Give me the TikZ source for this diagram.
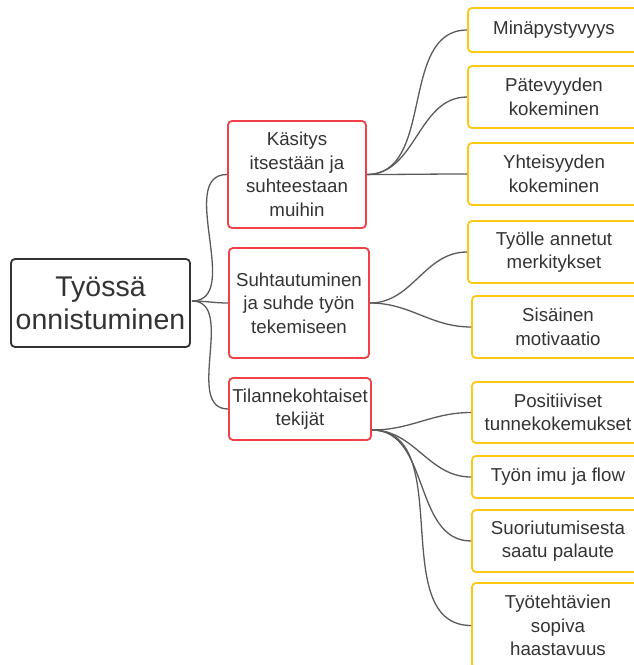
\documentclass[tikz,border=0pt]{standalone}
\usepackage{fontspec}
\setmainfont{Liberation Sans}
\usetikzlibrary{positioning}

\begin{document}
\begin{tikzpicture}[x=1pt,y=-1pt]
  % Colors
  \definecolor{textcolor}{RGB}{51,51,51}
  \definecolor{rootcolor}{RGB}{51,51,51}
  \definecolor{redcolor}{RGB}{242,64,72}
  \definecolor{yellowcolor}{RGB}{255,200,20}
  \definecolor{linecolor}{RGB}{90,90,90}

  % Styles
  \tikzstyle{box}=[rounded corners=4pt,line width=1.8pt,align=center,
    text=textcolor,inner sep=1pt,font=\fontsize{18.7}{23.5}\selectfont]
  \tikzstyle{root box}=[box,draw=rootcolor,minimum width=179,minimum height=88,
    font=\fontsize{28.5}{33}\selectfont]
  \tikzstyle{topic box}=[box,draw=redcolor,minimum width=138]
  \tikzstyle{leaf box}=[box,draw=yellowcolor,minimum width=172]
  \tikzstyle{branch}=[draw=linecolor,line width=1.3pt]

  % The graphic
  \useasboundingbox (0,0) rectangle (634,665);

  % Main node
  \node[root box] (root) at (100.5,303) {Työssä\\onnistuminen};

  % Topics
  \node[topic box,minimum height=107] (kasitys) at (297,174.5)
    {Käsitys\\itsestään ja\\suhteestaan\\muihin};
  \node[topic box,minimum width=140,minimum height=110] (suhde) at (299,303)
    {Suhtautuminen\\ja suhde työn\\tekemiseen};
  \node[topic box,minimum width=142,minimum height=62] (tilanne) at (300,409)
    {Tilannekohtaiset\\tekijät};

  % Leaves
  \node[leaf box,minimum height=44] (mina) at (554,30) {Minäpystyvyys};
  \node[leaf box,minimum height=62] (patevyys) at (554,97) {Pätevyyden\\kokeminen};
  \node[leaf box,minimum height=62] (yhteisyys) at (554,174) {Yhteisyyden\\kokeminen};
  \node[leaf box,minimum height=62] (merkitys) at (554,252) {Työlle annetut\\merkitykset};
  \node[leaf box,minimum height=62] (motivaatio) at (558,327) {Sisäinen\\motivaatio};
  \node[leaf box,minimum height=61] (tunne) at (558,412.5) {Positiiviset\\tunnekokemukset};
  \node[leaf box,minimum height=42] (imu) at (558,477) {Työn imu ja flow};
  \node[leaf box,minimum height=62] (palaute) at (558,541) {Suoriutumisesta\\saatu palaute};
  \node[leaf box,minimum height=85] (haaste) at (558,625.5) {Työtehtävien\\sopiva\\haastavuus};

  \coordinate (rootout) at (192,301);
  \coordinate (tilanneout) at (372,430);

  % Connectors
  \foreach \child in {kasitys,suhde,tilanne}
    \draw[branch] (rootout) to[out=0,in=180] (\child.west);
  \foreach \child in {mina,patevyys,yhteisyys}
    \draw[branch] (kasitys.east) to[out=0,in=180] (\child.west);
  \foreach \child in {merkitys,motivaatio}
    \draw[branch] (suhde.east) to[out=0,in=180] (\child.west);
  \foreach \child in {tunne,imu,palaute,haaste}
    \draw[branch] (tilanneout) to[out=0,in=180] (\child.west);
\end{tikzpicture}
\end{document}
